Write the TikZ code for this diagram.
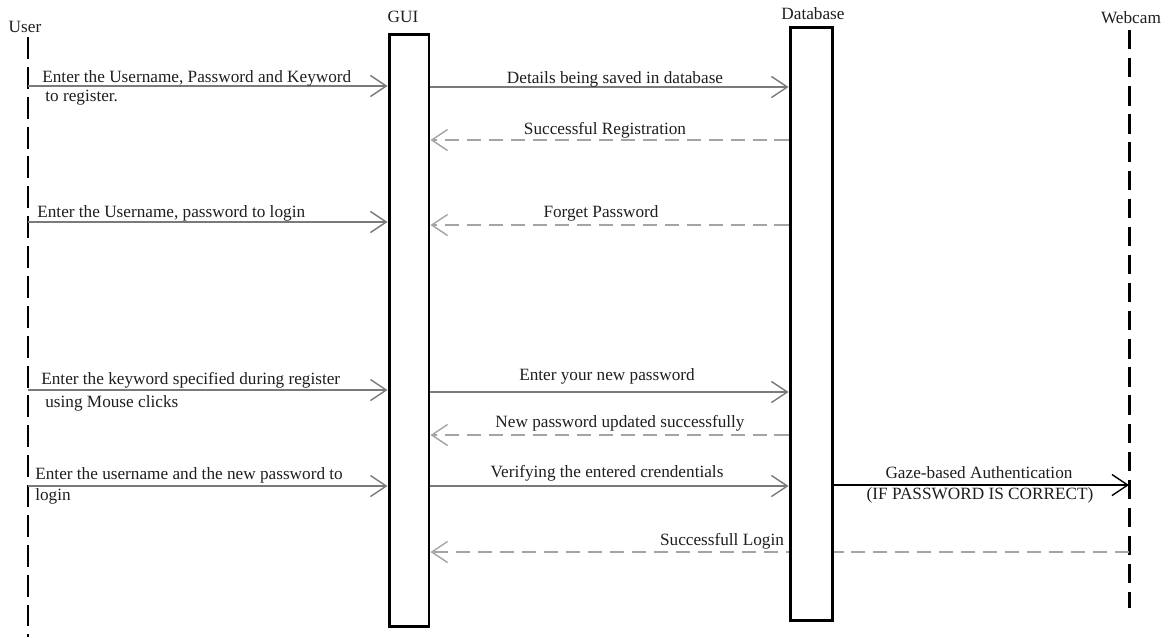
\documentclass[tikz,border=0pt]{standalone}
\usepackage{fontspec}
\setmainfont{Liberation Serif}
\usetikzlibrary{arrows.meta}
\definecolor{callgray}{HTML}{7A7A7A}
\definecolor{replygray}{HTML}{A4A4A4}
\definecolor{inkgray}{HTML}{1E1E1E}
\tikzset{
  lbl/.style={font=\fontsize{9.8}{11}\selectfont, text=inkgray, inner sep=0pt},
  lifebox/.style={draw=black, line width=1.7pt, fill=white, inner sep=0pt},
  barb/.style={-{Straight Barb[length=9pt,width=12pt]}},
  call/.style={barb, draw=callgray, line width=0.8pt},
  reply/.style={barb, draw=replygray, line width=0.8pt, dash pattern=on 8pt off 4.5pt},
}
\begin{document}
\begin{tikzpicture}[x=0.02cm, y=-0.02cm]
\useasboundingbox (0,0) rectangle (1169,637);
% actors
\node[lbl, anchor=base] (user) at (25,32) {User};
\node[lbl, anchor=base] (guiname) at (403,22) {GUI};
\node[lbl, anchor=base] (dbname) at (813,19) {Database};
\node[lbl, anchor=base] (camname) at (1131,23) {Webcam};
% lifelines
\coordinate (utop) at (28,37);
\coordinate (ubot) at (28,637);
\draw[black, line width=0.8pt, dash pattern=on 12.5pt off 4.5pt] (utop) -- (ubot);
\coordinate (ctop) at (1129,30);
\coordinate (cbot) at (1129,608);
\draw[black, line width=1.7pt, dash pattern=on 11pt off 5pt] (ctop) -- (cbot);
\node[lifebox, minimum width=0.8cm, minimum height=11.86cm] (gui) at (409,330.5) {};
% reply that runs behind the database box
\coordinate (c12) at (1129,552);
\draw[reply] (c12) -- (c12 -| gui.east);
\node[lbl, anchor=base] (t12) at (722,545) {Successfull Login};
\node[lifebox, minimum width=0.84cm, minimum height=11.88cm] (db) at (811,324) {};
% user to GUI
\foreach \y/\n in {86/u1, 222/u2, 390/u3, 486/u4} {
  \coordinate (\n) at (28,\y);
  \draw[call] (\n) -- (\n -| gui.west);
}
\node[lbl, anchor=base west] (t1) at (42,82) {Enter the Username, Password and Keyword};
\node[lbl, anchor=base west] (t1b) at (45,101) {to register.};
\node[lbl, anchor=base west] (t4) at (37,217) {Enter the Username, password to login};
\node[lbl, anchor=base west] (t6) at (41,384) {Enter the keyword specified during register};
\node[lbl, anchor=base west] (t6b) at (45,407) {using Mouse clicks};
\node[lbl, anchor=base west] (t9) at (35,479) {Enter the username and the new password to};
\node[lbl, anchor=base west] (t9b) at (35,500) {login};
% GUI to database
\foreach \y in {87, 392, 486}
  \draw[call] (gui.east |- 0,\y) -- (db.west |- 0,\y);
\node[lbl, anchor=base] (t2) at (615,83) {Details being saved in database};
\node[lbl, anchor=base] (t7) at (607,380) {Enter your new password};
\node[lbl, anchor=base] (t10) at (607,477) {Verifying the entered crendentials};
% database to GUI
\foreach \y in {140, 225, 435}
  \draw[reply] (db.west |- 0,\y) -- (gui.east |- 0,\y);
\node[lbl, anchor=base] (t3) at (605,134) {Successful Registration};
\node[lbl, anchor=base] (t5) at (601,217) {Forget Password};
\node[lbl, anchor=base] (t8) at (620,427) {New password updated successfully};
% database to webcam
\coordinate (c11) at (1129,485);
\draw[call, draw=black] (c11 -| db.east) -- (c11);
\node[lbl, anchor=base] (t11) at (979,478) {Gaze-based Authentication};
\node[lbl, anchor=base] (t11b) at (980,499) {(IF PASSWORD IS CORRECT)};
\end{tikzpicture}
\end{document}
